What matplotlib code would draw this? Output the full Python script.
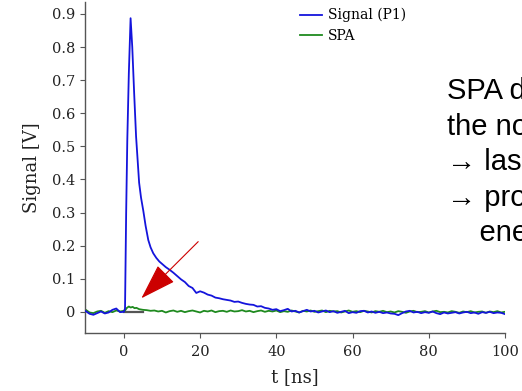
import numpy as np
from matplotlib import pyplot as plt

# signal (P1) trace
t_sig = [-10, -9, -8, -7, -6, -5, -4, -3, -2, -1, 0,
         0.3, 0.6, 0.9, 1.3, 1.76, 2.2, 2.7, 3.2, 3.6, 4.0, 4.5, 5.1, 5.7, 6.4, 7.0, 7.7, 8.5, 9.3,
         10, 11, 12, 13, 14, 15, 16, 17, 18, 19, 20, 21, 22, 23, 24, 25, 26, 27, 28, 29,
         30, 31, 32, 33, 34, 35, 36, 37, 38, 39, 40, 41, 42, 43, 44, 45, 46, 47, 48, 49,
         50, 51, 52, 53, 54, 55, 56, 57, 58, 59, 60, 61, 62, 63, 64, 65, 66, 67, 68, 69,
         70, 71, 72, 73, 74, 75, 76, 77, 78, 79, 80, 81, 82, 83, 84, 85, 86, 87, 88, 89,
         90, 91, 92, 93, 94, 95, 96, 97, 98, 99, 100]
v_sig = [0.002, -0.006, -0.009, -0.004, 0.001, -0.005, -0.002, 0.006, 0.010, -0.001, 0.000,
         0.010, 0.30, 0.52, 0.72, 0.887, 0.80, 0.66, 0.53, 0.46, 0.39, 0.345, 0.305, 0.26, 0.217, 0.195, 0.177, 0.163, 0.152,
         0.145, 0.135, 0.127, 0.118, 0.108, 0.098, 0.090, 0.078, 0.072, 0.057, 0.062, 0.058, 0.052, 0.049, 0.043, 0.041, 0.038, 0.036, 0.034, 0.030,
         0.031, 0.027, 0.024, 0.022, 0.021, 0.016, 0.017, 0.012, 0.010, 0.006, 0.008, 0.002, 0.005, 0.009, 0.001, 0.003, -0.002, 0.002, 0.006, 0.001,
         0.003, -0.002, 0.001, 0.004, -0.001, 0.002, -0.003, 0.000, 0.003, -0.004, -0.001, -0.003, 0.002, 0.003, -0.002, 0.001, -0.003, 0.000, -0.004, -0.002,
         -0.005, -0.006, -0.010, -0.004, 0.001, 0.003, -0.002, 0.000, -0.004, -0.001, -0.003, 0.001, -0.004, -0.007, -0.002, -0.005, -0.003, -0.001, -0.005, -0.002,
         0.000, -0.004, -0.002, -0.006, -0.001, -0.003, 0.000, -0.004, -0.002, -0.003, -0.007]

# SPA trace
t_spa = [-10, -9, -8, -7, -6, -5, -4, -3, -2, -1, 0,
         0.3, 0.8, 1.3, 1.8, 2.3, 2.8, 3.3, 4, 5, 6, 7, 8, 9,
         10, 11, 12, 13, 14, 15, 16, 17, 18, 19, 20, 21, 22, 23, 24, 25, 26, 27, 28, 29,
         30, 31, 32, 33, 34, 35, 36, 37, 38, 39, 40, 41, 42, 43, 44, 45, 46, 47, 48, 49,
         50, 51, 52, 53, 54, 55, 56, 57, 58, 59, 60, 61, 62, 63, 64, 65, 66, 67, 68, 69,
         70, 71, 72, 73, 74, 75, 76, 77, 78, 79, 80, 81, 82, 83, 84, 85, 86, 87, 88, 89,
         90, 91, 92, 93, 94, 95, 96, 97, 98, 99, 100]
v_spa = [0.006, -0.002, -0.004, 0.001, 0.003, -0.003, 0.002, -0.001, 0.004, 0.001, 0.003,
         0.004, 0.012, 0.016, 0.013, 0.015, 0.011, 0.012, 0.008, 0.006, 0.005, 0.003, 0.004, 0.001,
         0.003, -0.002, 0.002, 0.004, 0.000, 0.003, -0.001, 0.002, 0.004, 0.001, -0.002, 0.003, 0.001, 0.004, -0.001, 0.002, 0.003, 0.000, 0.004, 0.001,
         0.002, 0.005, 0.001, 0.003, -0.001, 0.002, 0.004, 0.000, 0.003, 0.001, 0.004, -0.001, 0.002, 0.000, 0.004, 0.001, -0.002, 0.003, 0.001, 0.004,
         0.000, 0.002, 0.004, -0.001, 0.003, 0.001, 0.002, -0.002, 0.001, 0.004, 0.000, 0.002, -0.001, 0.003, 0.001, -0.002, 0.002, 0.000, 0.003, -0.001,
         0.001, -0.002, 0.002, 0.000, -0.003, 0.001, 0.003, -0.001, 0.000, 0.002, -0.002, 0.001, 0.003, -0.001, 0.000, -0.002, 0.002, 0.000, -0.003, 0.001,
         -0.001, 0.002, -0.002, 0.000, 0.001, -0.003, 0.001, -0.001, 0.002, -0.002, 0.000]

baseline_t = [0, 5]

# red arrow: (tail, tip) in data units
arrow_tail = (19.5, 0.212)
arrow_tip = (4.6, 0.041)

x_ticks = [0, 20, 40, 60, 80, 100]
y_ticks = [0, 0.1, 0.2, 0.3, 0.4, 0.5, 0.6, 0.7, 0.8, 0.9]
y_ticklabels = ['0', '0.1', '0.2', '0.3', '0.4', '0.5', '0.6', '0.7', '0.8', '0.9']

# slide text next to the plot, runs off the right edge like in the original
side_text = ['SPA detects', 'the noise', '\u2192 laser noise', '\u2192 produces low', '    energy']

W, H = 522, 391
fig = plt.figure(figsize=(W / 100, H / 100), dpi=100)
ax = fig.add_axes([85 / W, 1 - 333 / H, 420 / W, 331 / H])

serif = 'DejaVu Serif'
grey = '#555555'

ax.plot(baseline_t, [0, 0], color=grey, lw=1.6, zorder=1)
ax.plot(t_sig, v_sig, color='#1414dc', lw=1.3, label='Signal (P1)', zorder=3)
ax.plot(t_spa, v_spa, color='#1f8a1f', lw=1.3, label='SPA', zorder=2)

ax.annotate('', xy=arrow_tip, xytext=arrow_tail,
            arrowprops=dict(arrowstyle='-|>,head_length=2.3,head_width=0.75',
                            color='#cc0000', lw=0.8, shrinkA=0, shrinkB=0,
                            mutation_scale=10), zorder=4)

ax.set_xlim(-10.2, 100)
ax.set_ylim(-0.064, 0.936)
ax.set_xticks(x_ticks)
ax.set_yticks(y_ticks)
ax.set_xticklabels([str(x) for x in x_ticks], family=serif, fontsize=10.5, color='#222222')
ax.set_yticklabels(y_ticklabels, family=serif, fontsize=10.5, color='#222222')
ax.tick_params(axis='both', length=3.5, width=0.8, color=grey)
ax.tick_params(axis='x', pad=5)

for side in ['top', 'right']:
    ax.spines[side].set_visible(False)
for side in ['left', 'bottom']:
    ax.spines[side].set_color(grey)
    ax.spines[side].set_linewidth(1.0)

ax.set_xlabel('t [ns]', family=serif, fontsize=13, color='#222222', labelpad=7)
ax.set_ylabel('Signal [V]', family=serif, fontsize=13, color='#222222', labelpad=8)

ax.legend(loc='upper left', bbox_to_anchor=(300 / W, 1 - 8 / H), bbox_transform=fig.transFigure,
          frameon=False, prop={'family': serif, 'size': 10}, handlelength=1.6,
          handletextpad=0.4, labelspacing=0.5, borderpad=0, borderaxespad=0)

for i, line in enumerate(side_text):
    fig.text(447 / W, 1 - (99 + i * 35.6) / H, line, family='Liberation Sans',
             fontsize=21, color='black', va='baseline', ha='left')

fig.savefig('out.png', dpi=100)
